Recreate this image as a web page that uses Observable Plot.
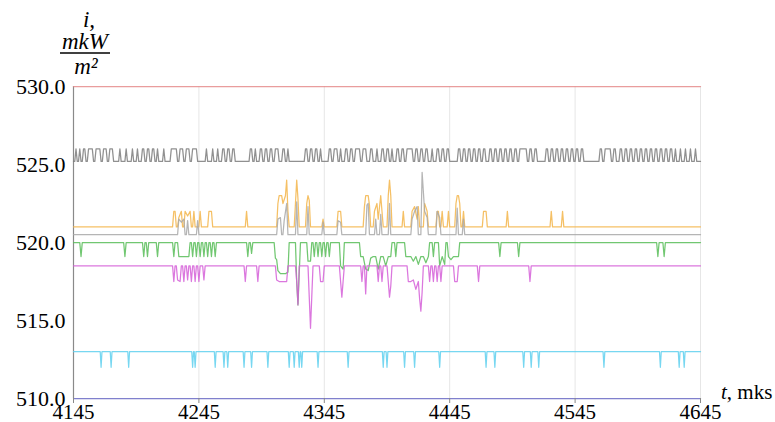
<!DOCTYPE html>
<html><head><meta charset="utf-8">
<script src="https://cdn.jsdelivr.net/npm/d3@7"></script>
<script src="https://cdn.jsdelivr.net/npm/@observablehq/plot@0.6"></script>
<style>body{margin:0;background:#fff} svg text{font-family:"Liberation Serif","Times New Roman",Times,"DejaVu Serif",serif !important}</style>
</head><body><div id="chart"></div>
<script>
const xTicks = [4145, 4245, 4345, 4445, 4545, 4645];
const yTicks = [510, 515, 520, 525, 530];
const tStart = 4145, tEnd = 4645;

const redLevel = 530;
const blueLevel = 510;

const grayLow = 525.2, grayHigh = 526.0;
const grayHighIntervals = [
  [4146,4147],[4149,4150],[4152,4154],[4156,4160],[4162,4166],[4168,4171],[4173,4176],
  [4181,4182],[4186,4187],[4191,4192],[4195,4196],
  [4199,4201],[4203,4205],[4207,4209],[4211,4212],[4216,4217],
  [4222,4227],[4229,4232],[4234,4237],[4239,4243],
  [4250,4251],[4255,4256],[4259,4260],
  [4263,4265],[4267,4269],[4271,4273],
  [4285,4287],[4289,4290],[4293,4295],[4297,4299],[4301,4303],[4305,4308],
  [4311,4313],[4315,4316],
  [4329,4331],[4333,4335],[4337,4339],[4341,4342],
  [4348,4350],[4352,4355],[4357,4358],[4361,4363],[4365,4367],
  [4369,4373],[4375,4378],
  [4381,4383],[4386,4387],[4390,4392],[4394,4396],[4398,4399],[4402,4404],[4406,4408],
  [4410,4415],[4417,4419],
  [4421,4423],[4425,4427],[4430,4431],[4434,4436],[4438,4440],[4442,4444],
  [4451,4453],[4455,4457],[4459,4461],[4463,4465],[4467,4469],[4471,4473],
  [4476,4478],[4480,4482],[4484,4486],[4488,4490],[4492,4494],[4496,4498],
  [4500,4506],[4508,4510],[4512,4514],
  [4521,4523],[4525,4527],[4529,4531],[4533,4535],[4537,4539],[4541,4543],[4545,4547],[4549,4551],
  [4564,4566],[4568,4573],[4575,4577],
  [4580,4582],[4584,4586],[4588,4590],[4592,4594],[4596,4598],[4600,4602],[4604,4606],[4608,4610],
  [4612,4614],[4616,4618],[4620,4622],[4624,4625],[4628,4629],[4632,4633],[4636,4637],[4640,4641]
];

const orangeBase = 521;
const orangeSpikes = [
  [4225,522],[4226,522],[4229,521.6],[4231,522],[4234,522],[4236,521.7],[4238,522],[4241,522],[4246,522],[4253,522],[4255,522],
  [4283,522],
  [4308,522.5],[4309,523],[4311,523],[4312,522.5],[4314,523],[4315,524],[4316,522],
  [4322,522.5],[4323,524],[4324,522.8],
  [4331,522.5],[4332,523],[4333,522.7],
  [4344,521.5],
  [4356,522],[4358,522],
  [4377,522.3],[4378,523],[4380,523],[4381,522.4],
  [4385,522],[4387,522.5],[4388,521.5],[4390,523],[4391,522],
  [4396,523],[4397,524],[4398,523],
  [4408,522],
  [4415,522],[4417,522.3],[4419,521.5],[4420,522.3],
  [4425,522.5],[4427,522],
  [4435,522],[4436,522],[4439,522],
  [4444,522],
  [4450,522.5],[4451,523],[4452,523],[4453,522.5],
  [4456,522],
  [4472,522],[4474,522],
  [4491,522],
  [4526,522],
  [4535,522]
];

const lightGrayBase = 520.5;
const lightGraySpikes = [
  [4229,521.5],[4231,521.3],[4233,521.5],[4236,521.4],[4244,521.4],
  [4308,521.5],[4310,521.6],[4313,521.4],[4315,522.5],
  [4323,522.6],
  [4332,522.3],
  [4344,521.3],
  [4356,521.4],[4358,521.3],
  [4379,522.4],[4380,522.5],
  [4386,521.5],[4390,521.8],
  [4397,522.5],
  [4415,521.5],[4417,522],[4419,522.3],
  [4423,524.5],[4425,522],[4427,521.6],
  [4435,522],[4437,521.6],
  [4451,522.2],
  [4456,521.5]
];

const greenBase = 520;
const greenSpikes = [
  [4151,519.1],[4186,519.1],[4201,519.1],[4204,519.1],[4212,519.1],
  [4225,519.1],[4229,519.1],[4231,519.1],[4233,519.1],[4235,519.1],[4237,519.1],
  [4240,519.1],[4243,519.1],[4246,519.1],[4249,519.1],[4252,519.1],[4255,519.1],[4258,519.1],
  [4284,519.1],[4287,519.3],
  [4306,519],[4307,518.9],[4308,518.2],[4310,518],[4312,518],[4314,518],[4316,518.1],
  [4323,517.5],[4324,516],[4325,518],
  [4332,518.8],[4334,518.8],
  [4337,519.1],[4340,519.1],[4343,519.1],[4346,519.1],[4349,519.1],
  [4358,518.5],[4360,518.3],
  [4374,519.1],[4376,519.1],[4378,518.3],[4380,518.2],[4382,519],[4384,519.1],[4386,519.1],[4388,518.3],
  [4390,519.1],[4392,519.1],[4394,518.5],[4396,519.1],[4398,519.1],
  [4402,519.1],
  [4410,519.1],[4412,519.1],[4414,519.1],[4416,518.8],[4418,519.1],[4420,518.6],[4422,519.1],[4424,519.1],[4426,518.7],[4428,519.1],
  [4432,519.1],
  [4437,518.5],[4439,519.1],[4441,518.6],[4444,519.1],[4446,518.9],[4448,519.1],[4450,519.1],[4452,519.1],
  [4485,519.1],[4500,519.1],[4611,519.1],[4616,519.1]
];

const magentaBase = 518.5;
const magentaSpikes = [
  [4225,517.5],[4228,517.6],[4230,517.5],[4233,517.5],[4236,517.6],[4239,517.5],[4242,517.5],[4245,517.5],[4249,517.6],
  [4282,517.5],[4292,517.5],
  [4307,517.6],[4309,517.5],[4311,517.5],[4313,517.5],[4315,517.5],
  [4323,517.5],[4324,516],
  [4333,516.5],[4334,514.5],[4335,516.5],
  [4342,517.5],[4344,517.5],
  [4358,517.5],[4359,516.5],[4360,517.5],
  [4375,517.5],[4378,516.7],
  [4388,517.5],[4391,517.5],
  [4396,517.5],[4397,516.5],[4398,517.2],
  [4412,517.5],[4414,517.5],[4416,517.6],[4418,517],[4420,517.5],[4421,516.4],[4422,515.6],[4423,516.8],
  [4429,517.5],[4432,517.5],[4435,517.5],[4438,517.5],
  [4449,517.5],[4451,517.5],
  [4468,517.5],[4509,517.5]
];

const cyanBase = 513, cyanDipLevel = 512;
const cyanDips = [4167,4175,4189,4240,4242,4258,4265,4268,4281,4287,4300,4317,4321,4325,4327,4340,4364,
  4392,4395,4409,4417,4437,4474,4481,4504,4510,4516,4568,4613,4628,4632];

function buildSquare(low, high, intervals) {
  const pts = [{t: tStart, v: low}];
  for (const [a, b] of intervals) {
    pts.push({t: a, v: low}, {t: a + 1, v: high}, {t: b, v: high}, {t: b + 1, v: low});
  }
  pts.push({t: tEnd, v: low});
  return pts;
}
function buildSpikes(base, spikes) {
  const pts = [{t: tStart, v: base}];
  for (let i = 0; i < spikes.length; i++) {
    const [t, v] = spikes[i];
    const prevT = i > 0 ? spikes[i - 1][0] : null;
    if (prevT === null || t - prevT > 2) {
      if (prevT !== null) pts.push({t: prevT + 1, v: base});
      pts.push({t: t - 1, v: base});
    }
    pts.push({t, v});
  }
  pts.push({t: spikes[spikes.length - 1][0] + 1, v: base});
  pts.push({t: tEnd, v: base});
  return pts;
}
function buildDips(base, level, times) {
  const pts = [{t: tStart, v: base}];
  for (const t of times) pts.push({t: t - 0.7, v: base}, {t, v: level}, {t: t + 0.7, v: base});
  pts.push({t: tEnd, v: base});
  return pts;
}

const series = [
  {data: [{t: tStart, v: redLevel}, {t: tEnd, v: redLevel}], color: "#e58c8c"},
  {data: buildSquare(grayLow, grayHigh, grayHighIntervals), color: "#7d7d7d"},
  {data: buildSpikes(orangeBase, orangeSpikes), color: "#f3b54a"},
  {data: buildSpikes(lightGrayBase, lightGraySpikes), color: "#a8a8a8"},
  {data: buildSpikes(greenBase, greenSpikes), color: "#58bd58"},
  {data: buildSpikes(magentaBase, magentaSpikes), color: "#d55fd8"},
  {data: buildDips(cyanBase, cyanDipLevel, cyanDips), color: "#5fd0ee"},
  {data: [{t: tStart, v: blueLevel}, {t: tEnd, v: blueLevel}], color: "#6a6ac4"}
];

const serif = "Liberation Serif, Times New Roman, Times, DejaVu Serif, serif";

const svg = Plot.plot({
  width: 775, height: 422,
  marginLeft: 73, marginRight: 75, marginTop: 86, marginBottom: 24,
  style: {background: "#fff", fontFamily: serif, color: "#000"},
  x: {domain: [tStart, tEnd]},
  y: {domain: [510, 530]},
  marks: [
    Plot.ruleX(xTicks, {stroke: "#e6e6e6", strokeWidth: 1}),
    Plot.ruleX([tStart], {stroke: "#8a8a8a", strokeWidth: 1.2}),
    ...series.map(s => Plot.line(s.data, {x: "t", y: "v", stroke: s.color, strokeWidth: 1.25, strokeOpacity: 0.85})),
    Plot.axisX(xTicks, {tickSize: 5, tickPadding: 1, fontSize: 21, fontFamily: serif, stroke: "#888", fill: "#000", tickFormat: d => String(d), label: null}),
    Plot.axisY(yTicks, {tickSize: 0, tickPadding: 8, fontSize: 22, fontFamily: serif, fill: "#000", tickFormat: d3.format(".1f"), label: null})
  ]
});

const s = d3.select(svg);
s.append("text").attr("x", 89).attr("y", 27).attr("text-anchor", "middle")
  .attr("font-size", 23).attr("font-style", "italic").text("i,");
s.append("text").attr("x", 85).attr("y", 49).attr("text-anchor", "middle")
  .attr("font-size", 23).attr("font-style", "italic").text("mkW");
s.append("line").attr("x1", 60).attr("x2", 110).attr("y1", 53).attr("y2", 53)
  .attr("stroke", "#000").attr("stroke-width", 1.3);
s.append("text").attr("x", 86).attr("y", 74).attr("text-anchor", "middle")
  .attr("font-size", 23).attr("font-style", "italic").text("m²");
const tl = s.append("text").attr("x", 721).attr("y", 399).attr("text-anchor", "start")
  .attr("font-size", 21);
tl.append("tspan").attr("font-style", "italic").text("t");
tl.append("tspan").text(", mks");

document.getElementById("chart").appendChild(svg);
</script>
</body></html>
